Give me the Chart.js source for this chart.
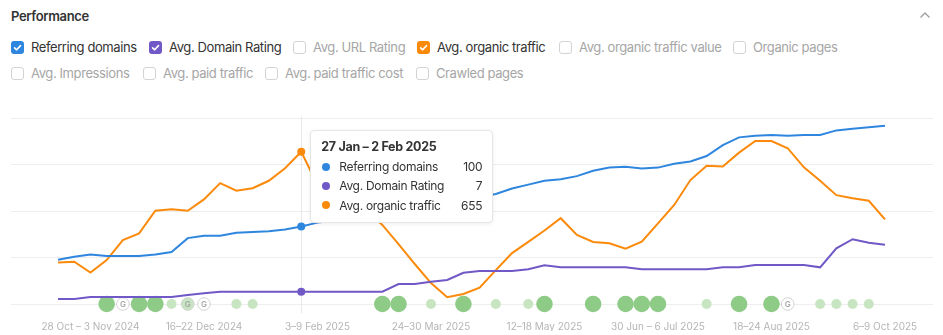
<!DOCTYPE html>
<html>
<head>
<meta charset="utf-8">
<script src="https://cdn.jsdelivr.net/npm/chart.js@4.4.1/dist/chart.umd.min.js"></script>
<style>
  html, body { margin: 0; padding: 0; background: #fff; }
  body { width: 943px; height: 335px; position: relative; overflow: hidden; font-family: Inter, "Noto Sans", sans-serif; }
  .title { position: absolute; left: 11px; top: 7px; font-size: 13px; font-weight: 600; color: #333; line-height: 18px; letter-spacing: -0.35px; }
  .chev { position: absolute; left: 919px; top: 11px; }
  .opt { position: absolute; height: 18px; display: flex; align-items: center; font-size: 13px; color: #a6a6a6; white-space: nowrap; letter-spacing: -0.4px; }
  .opt.on { color: #333; }
  .opt svg { margin-right: 7px; flex: none; }
  #wrap { position: absolute; left: 0; top: 100px; width: 943px; height: 235px; }
  #tip { position: absolute; display: none; width: 183px; box-sizing: border-box; padding: 6px 10px 7px 10px; background: #fff;
         border: 1px solid #e6e6e6; border-radius: 4px; box-shadow: 0 1px 4px rgba(0,0,0,0.07); font-size: 12px; color: #333; letter-spacing: -0.3px; }
  #tip .tt { font-weight: 700; line-height: 20px; font-size: 12.5px; }
  #tip .row { display: flex; align-items: center; line-height: 19.3px; }
  #tip .dot { width: 8px; height: 8px; border-radius: 50%; margin: 0 9px 0 1px; }
  #tip .lab { flex: 1; }
</style>
</head>
<body>
<div class="title">Performance</div>
<svg class="chev" width="12" height="8" viewBox="0 0 12 8"><path d="M1.5 6.5 L6 2 L10.5 6.5" fill="none" stroke="#a0a0a0" stroke-width="1.4"/></svg>
<div id="opts"></div>
<div id="wrap"><canvas id="perfChart"></canvas></div>
<div id="tip"></div>

<script>
// semaines (catégories)
const weekLabels = [
  "14–20 Oct 2024", "21–27 Oct 2024", "28 Oct – 3 Nov 2024", "4–10 Nov 2024", "11–17 Nov 2024",
  "18–24 Nov 2024", "25 Nov – 1 Dec 2024", "2–8 Dec 2024", "9–15 Dec 2024", "16–22 Dec 2024",
  "23–29 Dec 2024", "30 Dec 2024 – 5 Jan 2025", "6–12 Jan 2025", "13–19 Jan 2025", "20–26 Jan 2025",
  "27 Jan – 2 Feb 2025", "3–9 Feb 2025", "10–16 Feb 2025", "17–23 Feb 2025", "24 Feb – 2 Mar 2025",
  "3–9 Mar 2025", "10–16 Mar 2025", "17–23 Mar 2025", "24–30 Mar 2025", "31 Mar – 6 Apr 2025",
  "7–13 Apr 2025", "14–20 Apr 2025", "21–27 Apr 2025", "28 Apr – 4 May 2025", "5–11 May 2025",
  "12–18 May 2025", "19–25 May 2025", "26 May – 1 Jun 2025", "2–8 Jun 2025", "9–15 Jun 2025",
  "16–22 Jun 2025", "23–29 Jun 2025", "30 Jun – 6 Jul 2025", "7–13 Jul 2025", "14–20 Jul 2025",
  "21–27 Jul 2025", "28 Jul – 3 Aug 2025", "4–10 Aug 2025", "11–17 Aug 2025", "18–24 Aug 2025",
  "25–31 Aug 2025", "1–7 Sep 2025", "8–14 Sep 2025", "15–21 Sep 2025", "22–28 Sep 2025",
  "29 Sep – 5 Oct 2025", "6–9 Oct 2025"
];
const tickIdx = [2, 9, 16, 23, 30, 37, 44, 51];

const referringDomains = [
  57, 61, 64, 62, 62, 62, 64, 67, 85, 88,
  88, 92, 93, 94, 96, 100, 105, 107, 110, 114,
  117, 121, 124, 128, 131, 134, 138, 142, 149, 154,
  159, 161, 165, 172, 176, 177, 175, 176, 181, 184,
  191, 205, 215, 217, 218, 217, 218, 218, 224, 226,
  228, 230
];
const domainRating = [
  2.8, 2.8, 4, 4, 4, 4, 4, 4, 5.1, 6.1,
  7, 7, 7, 7, 7, 7, 7, 7, 7, 7,
  7, 11.4, 11.4, 12.7, 13.7, 17.8, 18.8, 18.8, 18.8, 19.8,
  22.1, 20.9, 20.9, 20.9, 20.9, 20.9, 19.8, 19.8, 19.8, 19.8,
  19.8, 20.9, 20.9, 22.2, 22.2, 22.2, 22.2, 20.9, 31.7, 36.9,
  34.9, 33.8
];
const organicTraffic = [
  178, 182, 135, 189, 275, 304, 401, 407, 401, 450,
  520, 487, 498, 530, 584, 655, 512, 486, 456, 404,
  340, 258, 172, 90, 29, 43, 70, 146, 219, 267,
  316, 369, 297, 267, 261, 238, 268, 347, 426, 533,
  595, 591, 651, 701, 701, 670, 588, 530, 468, 455,
  444, 364
];

// annotations (mises à jour Google etc.)
const annIdx  = [3, 4, 5, 6, 7, 8, 9, 11, 12, 20, 21, 23, 25, 27, 29, 30, 33, 35, 36, 37, 40, 42, 44, 45, 47, 48, 49, 50];
const annKind = ["big", "g", "big", "big", "light", "gl", "g", "light", "light", "big", "big", "light", "big", "light",
                 "light", "big", "big", "big", "big", "big", "light", "big", "big", "g", "light", "light", "light", "light"];

const hoverIdx = 15;

const BLUE = "#2f86de", PURPLE = "#7058c6", ORANGE = "#fb8a0b";

// cases à cocher
const opts = [
  { label: "Referring domains", color: BLUE, left: 11, row: 0 },
  { label: "Avg. Domain Rating", color: PURPLE, left: 149, row: 0 },
  { label: "Avg. URL Rating", color: null, left: 293, row: 0 },
  { label: "Avg. organic traffic", color: ORANGE, left: 417, row: 0 },
  { label: "Avg. organic traffic value", color: null, left: 559, row: 0 },
  { label: "Organic pages", color: null, left: 733, row: 0 },
  { label: "Avg. Impressions", color: null, left: 11, row: 1 },
  { label: "Avg. paid traffic", color: null, left: 143, row: 1 },
  { label: "Avg. paid traffic cost", color: null, left: 265, row: 1 },
  { label: "Crawled pages", color: null, left: 416, row: 1 },
];
document.getElementById("opts").innerHTML = opts.map(o => {
  const box = o.color
    ? `<svg width="13" height="13" viewBox="0 0 13 13"><rect width="13" height="13" rx="3" fill="${o.color}"/><path d="M3.6 6.8 L5.7 8.8 L9.5 4.6" fill="none" stroke="#fff" stroke-width="1.6" stroke-linecap="round" stroke-linejoin="round"/></svg>`
    : `<svg width="13" height="13" viewBox="0 0 13 13"><rect x="0.5" y="0.5" width="12" height="12" rx="2.5" fill="#fff" stroke="#d3d3d3"/></svg>`;
  return `<div class="opt${o.color ? " on" : ""}" style="left:${o.left}px;top:${o.row ? 64 : 38}px">${box}${o.label}</div>`;
}).join("");

function series(label, data, color, axis) {
  return {
    label, yAxisID: axis,
    data: data.map((v, i) => ({ x: i, y: v })),
    borderColor: color, backgroundColor: color, borderWidth: 2,
    pointRadius: 0, pointHoverRadius: 4, pointHoverBorderWidth: 0,
    pointHoverBackgroundColor: color, tension: 0,
  };
}

const annColors = { big: "#8ecb86", light: "#c6e5c0", g: "#ffffff", gl: "#c6e5c0" };

const annDataset = {
  label: "annotations", type: "scatter", yAxisID: "yA", order: 10, clip: false,
  data: annIdx.map(i => ({ x: i, y: 0 })),
  pointRadius: annKind.map(k => k === "big" ? 8.3 : k === "light" ? 5 : 6.3),
  pointHoverRadius: annKind.map(k => k === "big" ? 8.3 : k === "light" ? 5 : 6.3),
  pointBackgroundColor: annKind.map(k => annColors[k]),
  pointBorderColor: annKind.map(k => (k === "g" || k === "gl") ? "#d2d2d2" : annColors[k]),
  pointBorderWidth: annKind.map(k => (k === "g" || k === "gl") ? 1 : 0),
};

// lettre G sur les annotations Google
const gPlugin = {
  id: "gLetters",
  afterDatasetsDraw(chart) {
    const meta = chart.getDatasetMeta(3);
    const ctx = chart.ctx;
    ctx.save();
    ctx.font = "600 8px Inter";
    ctx.fillStyle = "#a8a8a8";
    ctx.textAlign = "center";
    ctx.textBaseline = "middle";
    meta.data.forEach((p, j) => {
      if (annKind[j] === "g" || annKind[j] === "gl") ctx.fillText("G", p.x, p.y + 0.5);
    });
    ctx.restore();
  }
};

// ligne verticale du survol
const hoverLine = {
  id: "hoverLine",
  beforeDatasetsDraw(chart) {
    const act = chart.getActiveElements();
    if (!act.length) return;
    const x = Math.round(act[0].element.x) + 0.5;
    const ctx = chart.ctx;
    ctx.save();
    ctx.strokeStyle = "#e8e8e8";
    ctx.lineWidth = 1;
    ctx.beginPath();
    ctx.moveTo(x, chart.chartArea.top - 2);
    ctx.lineTo(x, chart.chartArea.bottom + 9);
    ctx.stroke();
    ctx.restore();
  }
};

function externalTip(context) {
  const { chart, tooltip } = context;
  const el = document.getElementById("tip");
  if (tooltip.opacity === 0 || !tooltip.dataPoints || !tooltip.dataPoints.length) { el.style.display = "none"; return; }
  const i = tooltip.dataPoints[0].dataIndex;
  const rows = [0, 1, 2].map(d => {
    const ds = chart.data.datasets[d];
    return `<div class="row"><span class="dot" style="background:${ds.borderColor}"></span><span class="lab">${ds.label}</span><span>${ds.data[i].y}</span></div>`;
  }).join("");
  el.innerHTML = `<div class="tt">${weekLabels[i]}</div>${rows}`;
  el.style.display = "block";
  el.style.left = (chart.canvas.offsetLeft + tooltip.caretX + 9) + "px";
  el.style.top = (100 + chart.chartArea.top + 12) + "px";
}

const chart = new Chart(document.getElementById("perfChart"), {
  type: "line",
  data: {
    datasets: [
      series("Referring domains", referringDomains, BLUE, "yRD"),
      series("Avg. Domain Rating", domainRating, PURPLE, "yDR"),
      series("Avg. organic traffic", organicTraffic, ORANGE, "yOT"),
      annDataset,
    ],
  },
  options: {
    responsive: true,
    maintainAspectRatio: false,
    animation: false,
    devicePixelRatio: 1,
    events: [],
    layout: { padding: { left: 11, right: 10, top: 18, bottom: 4 } },
    plugins: {
      legend: { display: false },
      tooltip: { enabled: false, mode: "index", intersect: false, external: externalTip, filter: it => it.datasetIndex < 3 },
    },
    scales: {
      x: {
        type: "linear", min: -2.9, max: 53.96,
        grid: { display: false }, border: { display: false },
        afterBuildTicks: a => { a.ticks = tickIdx.map(v => ({ value: v })); },
        afterFit: a => { a.height = 27; },
        ticks: {
          autoSkip: false, maxRotation: 0, padding: 9, color: "#b5b5b5",
          font: { size: 10, family: "Inter" },
          callback: v => weekLabels[v],
        },
      },
      y: {
        position: "left", min: 0, max: 4,
        afterBuildTicks: a => { a.ticks = [0, 1, 2, 3, 4].map(v => ({ value: v })); },
        afterFit: a => { a.width = 0; },
        ticks: { display: false },
        grid: { color: "#eeeeee", drawTicks: false },
        border: { display: false },
      },
      yRD: { display: false, min: 0, max: 240 },
      yDR: { display: false, min: 0, max: 106 },
      yOT: { display: false, min: 0, max: 800 },
      yA: { display: false, min: 0, max: 1 },
    },
  },
  plugins: [gPlugin, hoverLine],
});

const active = [0, 1, 2].map(d => ({ datasetIndex: d, index: hoverIdx }));
chart.setActiveElements(active);
const p = chart.getDatasetMeta(0).data[hoverIdx];
chart.tooltip.setActiveElements(active, { x: p.x, y: p.y });
chart.update();
</script>
</body>
</html>
